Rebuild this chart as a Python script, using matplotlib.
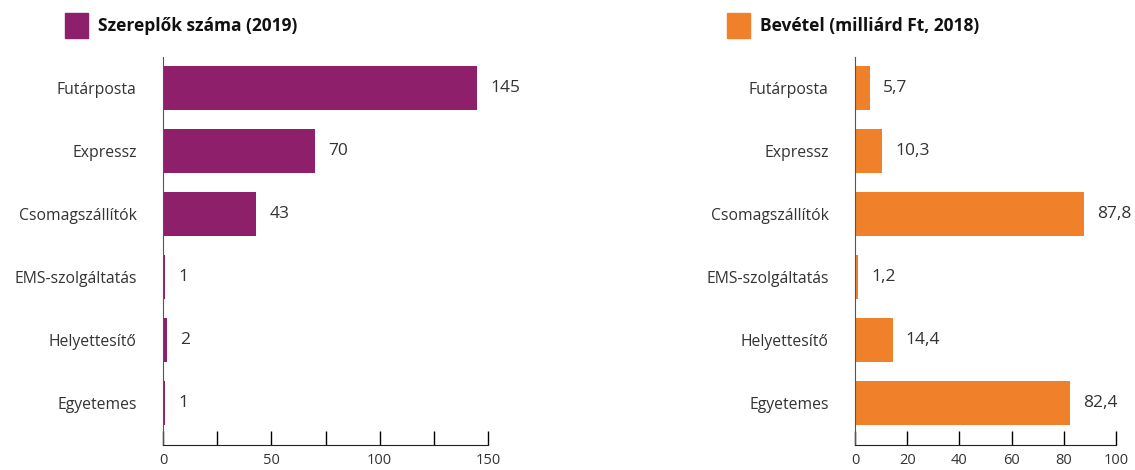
import matplotlib
matplotlib.use("Agg")
import matplotlib.pyplot as plt
from matplotlib.patches import Rectangle
from matplotlib.ticker import MultipleLocator

categories = ["Futárposta", "Expressz", "Csomagszállítók", "EMS-szolgáltatás", "Helyettesítő", "Egyetemes"]
players_2019 = [145, 70, 43, 1, 2, 1]
revenue_2018 = [5.7, 10.3, 87.8, 1.2, 14.4, 82.4]

PURPLE = "#8e1f6b"
ORANGE = "#f0812a"
TEXT = "#333333"

plt.rcParams["font.family"] = ["Open Sans", "DejaVu Sans"]

fig = plt.figure(figsize=(11.35, 4.7), dpi=100)


def fmt(v):
    return f"{v:g}".replace(".", ",")


def panel(rect, values, color, xmax, major, tick_step, title, legend_x):
    ax = fig.add_axes(rect)
    y = range(len(categories))
    ax.barh(y, values, height=0.7, color=color)
    ax.set_ylim(5.67, -0.49)
    ax.set_xlim(0, xmax)
    ax.set_yticks(list(y))
    ax.set_yticklabels(categories, fontsize=11.3, color=TEXT)
    ax.tick_params(axis="y", length=0, pad=19)
    ax.xaxis.set_major_locator(MultipleLocator(major))
    ax.xaxis.set_minor_locator(MultipleLocator(tick_step))
    ax.tick_params(axis="x", which="both", direction="in", length=10, width=1,
                   labelsize=10.5, labelcolor=TEXT, pad=6)
    for s in ("top", "right"):
        ax.spines[s].set_visible(False)
    ax.spines["left"].set_color("#555555")
    ax.spines["bottom"].set_color("#222222")
    for yi, v in zip(y, values):
        ax.annotate(fmt(v), (v, yi), xytext=(9.5, 0), textcoords="offset points",
                    va="center", ha="left", fontsize=12.5, color=TEXT)
    # legend swatch and heading above the panel
    fig.patches.append(Rectangle((legend_x, 1 - 38 / 470), 23 / 1135, 25 / 470,
                                 transform=fig.transFigure, color=color))
    fig.text(legend_x + 33 / 1135, 1 - 26 / 470, title, fontsize=12.5, fontweight="bold",
             color="#111111", va="center", ha="left")
    return ax


panel([163 / 1135, 25 / 470, 325 / 1135, 388 / 470], players_2019, PURPLE,
      150, 50, 25, "Szereplők száma (2019)", 65 / 1135)
panel([855 / 1135, 25 / 470, 261 / 1135, 388 / 470], revenue_2018, ORANGE,
      100, 20, 20, "Bevétel (milliárd Ft, 2018)", 727 / 1135)

fig.savefig("out.png", dpi=100)
